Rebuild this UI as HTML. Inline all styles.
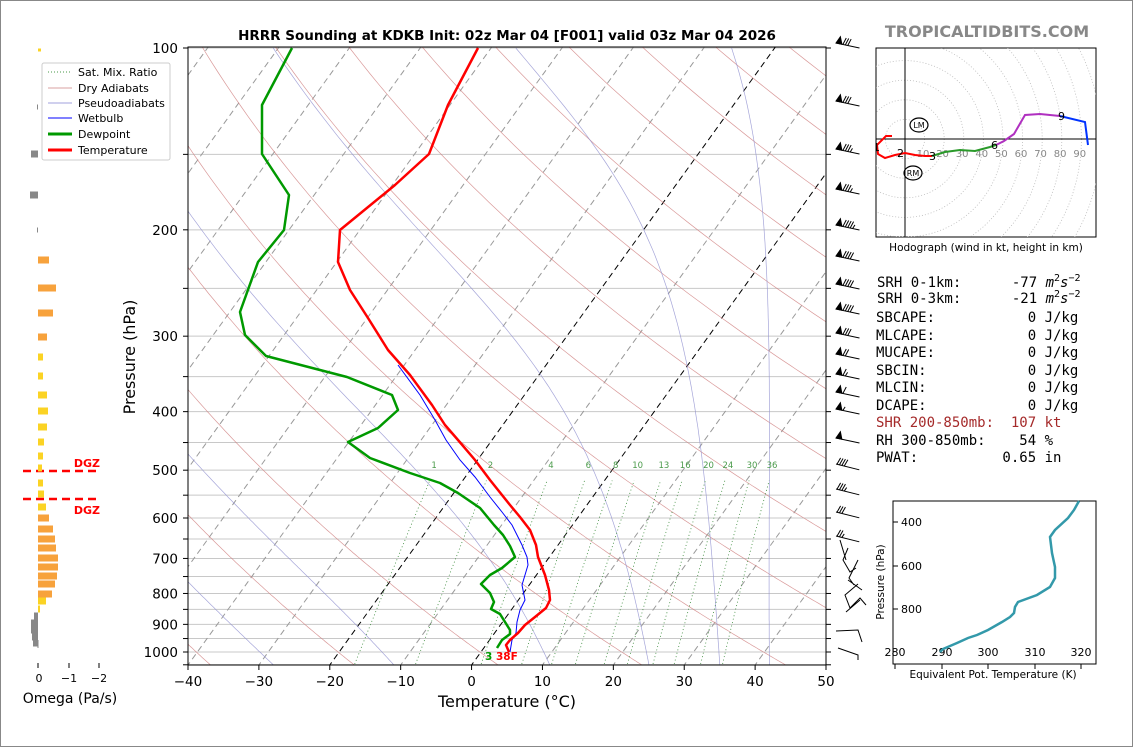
<!DOCTYPE html>
<html><head><meta charset="utf-8">
<style>
html,body{margin:0;padding:0;background:#fff;}
svg{display:block;font-family:"DejaVu Sans","Liberation Sans",sans-serif;}
.mono text{font-family:"DejaVu Sans Mono","Liberation Mono",monospace;font-size:14px;white-space:pre;}
</style></head>
<body>
<svg id="s" width="1134" height="748" viewBox="0 0 1134 748" xmlns="http://www.w3.org/2000/svg" xml:space="preserve">
<rect x="0.5" y="0.5" width="1132" height="746" fill="#fff" stroke="#888"/>
<defs><clipPath id="c"><rect x="188" y="47" width="638" height="618"/></clipPath>
<clipPath id="ch"><rect x="876" y="48" width="220" height="189"/></clipPath></defs>
<g id="bg" clip-path="url(#c)"></g>
<g id="fg"></g>
<text x="507" y="40" text-anchor="middle" font-size="13.5" font-weight="bold">HRRR Sounding at KDKB Init: 02z Mar 04 [F001] valid 03z Mar 04 2026</text>
<text x="987" y="37" text-anchor="middle" font-size="16" font-weight="bold" fill="#888">TROPICALTIDBITS.COM</text>
<text x="507" y="707" text-anchor="middle" font-size="16">Temperature (°C)</text>
<text transform="translate(135,357) rotate(-90)" text-anchor="middle" font-size="16">Pressure (hPa)</text>
<text x="70" y="703" text-anchor="middle" font-size="14">Omega (Pa/s)</text>
<g font-size="11">
<rect x="42" y="63" width="128" height="97" fill="#fff" stroke="#ccc" rx="2"/>
<line x1="48" y1="72" x2="72" y2="72" stroke="#4a9a4a" stroke-dasharray="1,2"/><text x="78" y="76">Sat. Mix. Ratio</text>
<line x1="48" y1="88" x2="72" y2="88" stroke="#d9a0a0"/><text x="78" y="92">Dry Adiabats</text>
<line x1="48" y1="103" x2="72" y2="103" stroke="#a0a0dd"/><text x="78" y="107">Pseudoadiabats</text>
<line x1="48" y1="118" x2="72" y2="118" stroke="#00f"/><text x="78" y="122">Wetbulb</text>
<line x1="48" y1="134" x2="72" y2="134" stroke="#090" stroke-width="3"/><text x="78" y="138">Dewpoint</text>
<line x1="48" y1="150" x2="72" y2="150" stroke="#f00" stroke-width="3"/><text x="78" y="154">Temperature</text>
</g>
<line x1="23" y1="471" x2="99" y2="471" stroke="#f00" stroke-width="2.5" stroke-dasharray="8,5"/>
<line x1="23" y1="499" x2="99" y2="499" stroke="#f00" stroke-width="2.5" stroke-dasharray="8,5"/>
<text x="100" y="467" text-anchor="end" font-size="11" font-weight="bold" fill="#f00">DGZ</text>
<text x="100" y="514" text-anchor="end" font-size="11" font-weight="bold" fill="#f00">DGZ</text>
<line x1="38" y1="663" x2="38" y2="668" stroke="#000"/><line x1="69" y1="663" x2="69" y2="668" stroke="#000"/><line x1="99" y1="663" x2="99" y2="668" stroke="#000"/>
<g font-size="11" text-anchor="middle"><text x="39" y="682">0</text><text x="69" y="682">−1</text><text x="99" y="682">−2</text></g>
<rect x="876" y="48" width="220" height="189" fill="#fff" stroke="#000"/>
<g id="hodo" clip-path="url(#ch)"></g>
<text x="986" y="251" text-anchor="middle" font-size="10.5">Hodograph (wind in kt, height in km)</text>
<g class="mono">
<text x="877" y="287" xml:space="preserve">SRH 0-1km:      -77 <tspan font-style="italic">m</tspan><tspan font-size="10" dy="-6">2</tspan><tspan dy="6" font-style="italic">s</tspan><tspan font-size="10" dy="-6">−2</tspan></text>
<text x="877" y="303" xml:space="preserve">SRH 0-3km:      -21 <tspan font-style="italic">m</tspan><tspan font-size="10" dy="-6">2</tspan><tspan dy="6" font-style="italic">s</tspan><tspan font-size="10" dy="-6">−2</tspan></text>
<text x="876" y="322" xml:space="preserve">SBCAPE:           0 J/kg</text>
<text x="876" y="340" xml:space="preserve">MLCAPE:           0 J/kg</text>
<text x="876" y="357" xml:space="preserve">MUCAPE:           0 J/kg</text>
<text x="876" y="375" xml:space="preserve">SBCIN:            0 J/kg</text>
<text x="876" y="392" xml:space="preserve">MLCIN:            0 J/kg</text>
<text x="876" y="410" xml:space="preserve">DCAPE:            0 J/kg</text>
<text x="876" y="427" fill="#a52a2a" xml:space="preserve">SHR 200-850mb:  107 kt</text>
<text x="876" y="445" xml:space="preserve">RH 300-850mb:    54 %</text>
<text x="876" y="462" xml:space="preserve">PWAT:          0.65 in</text>
</g>
<rect x="893" y="501" width="203" height="163" fill="none" stroke="#000"/>
<g font-size="11">
<text x="895" y="656" text-anchor="middle">280</text><text x="942" y="656" text-anchor="middle">290</text><text x="988" y="656" text-anchor="middle">300</text><text x="1035" y="656" text-anchor="middle">310</text><text x="1081" y="656" text-anchor="middle">320</text>
<text x="901" y="526">400</text><text x="901" y="570">600</text><text x="901" y="613">800</text>
</g>
<g stroke="#000"><line x1="893" y1="522" x2="898" y2="522"/><line x1="893" y1="566" x2="898" y2="566"/><line x1="893" y1="609" x2="898" y2="609"/>
<line x1="895" y1="664" x2="895" y2="669"/><line x1="942" y1="664" x2="942" y2="669"/><line x1="988" y1="664" x2="988" y2="669"/><line x1="1035" y1="664" x2="1035" y2="669"/><line x1="1081" y1="664" x2="1081" y2="669"/></g>
<text x="993" y="678" text-anchor="middle" font-size="10.5">Equivalent Pot. Temperature (K)</text>
<text transform="translate(884,582) rotate(-90)" text-anchor="middle" font-size="10.5">Pressure (hPa)</text>
<polyline fill="none" stroke="#3399aa" stroke-width="2.5" points="1079,501 1074,510 1068,518 1055,530 1050,537 1052,553 1055,567 1055,578 1050,587 1037,595 1018,602 1015,607 1014,613 1010,617 1002,622 988,630 977,635 968,638 957,643 943,649 940,652"/>
</svg>
<script>
var NS="http://www.w3.org/2000/svg";
function el(p,t,a,txt){var e=document.createElementNS(NS,t);for(var k in a)e.setAttribute(k,a[k]);if(txt!=null)e.textContent=txt;p.appendChild(e);return e;}
var bg=document.getElementById('bg'),fg=document.getElementById('fg'),svg=document.getElementById('s');
function Y(p){return 48+604*Math.log10(p/100);}
function X(T,p){return 188+(T+40)*7.089+0.721*(665-Y(p));}
function pl(pts){return pts.map(function(q){return q[0].toFixed(1)+","+q[1].toFixed(1)}).join(" ");}
var P=[];for(var p=1060;p>=95;p-=5)P.push(p);
for(var p=100;p<=1050;p+=50){el(bg,'line',{x1:188,x2:826,y1:Y(p),y2:Y(p),stroke:'#c8c8c8','stroke-width':1});}
for(var T=-130;T<=50;T+=10){var blk=(T==0||T==-20);el(bg,'line',{x1:X(T,1060),y1:Y(1060),x2:X(T,90),y2:Y(90),stroke:blk?'#000':'#999','stroke-width':1,'stroke-dasharray':'6,4'});}
for(var th=213;th<=520;th+=20){var pts=P.map(function(p){return [X(th*Math.pow(p/1000,0.2857)-273.15,p),Y(p)]});el(bg,'polyline',{points:pl(pts),fill:'none',stroke:'#d08080','stroke-width':0.7,opacity:0.8});}
function es(T){return 6.112*Math.exp(17.67*T/(T+243.5));}
[-45,-28,-11,11,25,35,42].forEach(function(T0){var T=T0+273.15,pts=[];
 for(var pp=1050;pp>=100;pp-=5){pts.push([X(T-273.15,pp),Y(pp)]);var rs=0.622*es(T-273.15)/(pp-es(T-273.15));var d=(287*T+2.5e6*rs)/(1004+2.5e6*2.5e6*rs*0.622/(287*T*T))/pp;T-=d*5;}
 el(bg,'polyline',{points:pl(pts),fill:'none',stroke:'#9090d0','stroke-width':0.7,opacity:0.8});});
[1,2,4,6,8,10,13,16,20,24,30,36].forEach(function(w){var pts=[];for(var p=1060;p>=520;p-=10){var e=w*p/(622+w),l=Math.log(e/6.112);pts.push([X(243.5*l/(17.67-l),p),Y(p)]);}
 el(bg,'polyline',{points:pl(pts),fill:'none',stroke:'#3a8a3a','stroke-width':0.8,'stroke-dasharray':'1,2.5'});
 var e=w*500/(622+w),l=Math.log(e/6.112);el(bg,'text',{x:X(243.5*l/(17.67-l),500),y:468,'font-size':8.5,fill:'#4a9a4a','text-anchor':'middle'},String(w));});
el(fg,'polyline',{fill:'none',stroke:'#00f','stroke-width':1,points:"398,365 420,395 435,420 446,440 460,460 475,477 490,497 502,512 512,525 522,545 527,557 528,565 525,575 522,585 525,600 520,610 517,622 516,633 512,640 510,652"});
el(fg,'polyline',{fill:'none',stroke:'#090','stroke-width':2.5,'stroke-linejoin':'round',points:"292,48 262,105 262,154 289,195 284,230 258,262 240,312 245,335 266,356 347,377 392,395 398,410 378,428 348,442 370,458 410,473 440,483 458,493 480,508 494,525 503,535 510,546 515,557 502,568 490,575 481,584 490,593 494,602 491,609 500,614 505,622 510,630 510,634 502,640 497,648"});
el(fg,'polyline',{fill:'none',stroke:'#f00','stroke-width':2.5,'stroke-linejoin':'round',points:"478,48 448,105 429,154 395,185 340,230 338,262 350,290 368,318 388,350 410,375 432,405 445,425 458,440 475,460 490,480 510,505 520,517 530,530 536,545 538,557 545,575 549,590 550,600 546,608 535,617 525,625 518,633 510,640 506,645 509,652"});
el(fg,'text',{x:485,y:660,'font-size':10.5,'font-weight':'bold',fill:'#090'},'3');
el(fg,'text',{x:496,y:660,'font-size':10.5,'font-weight':'bold',fill:'#f00'},'38F');
el(fg,'rect',{x:188,y:47,width:638,height:618,fill:'none',stroke:'#000','stroke-width':1});
[100,200,300,400,500,600,700,800,900,1000].forEach(function(p){el(fg,'text',{x:178,y:Y(p)+5,'font-size':13.5,'text-anchor':'end'},String(p));});
for(var p=100;p<=1050;p+=50){el(fg,'line',{x1:183,x2:188,y1:Y(p),y2:Y(p),stroke:'#000'});el(fg,'line',{x1:826,x2:831,y1:Y(p),y2:Y(p),stroke:'#000'});}
for(var T=-40;T<=50;T+=10){var x=188+(T+40)*7.089;el(fg,'line',{x1:x,x2:x,y1:665,y2:670,stroke:'#000'});el(fg,'text',{x:x,y:686,'font-size':13.5,'text-anchor':'middle'},(T<0?'−'+(-T):String(T)));}
var bars=[[50,41,'y',3],[107,37,'g',5],[154,31,'g'],[195,30,'g'],[230,37,'g',5],[260,49,'o'],[288,56,'o'],[313,53,'o'],[337,47,'o'],[357,43,'y'],[376,43,'y'],[395,47,'y'],[411,48,'y'],[427,47,'y'],[442,44,'y'],[456,43,'y'],[468,42,'y'],[483,43,'y'],[494,44,'y'],[507,46,'y'],[518,49,'o'],[529,53,'o'],[539,55,'o'],[548,56,'o'],[558,58,'o'],[567,58,'o'],[576,57,'o'],[584,55,'o'],[594,52,'o'],[601,46,'y'],[609,40,'y'],[616,34,'g'],[623,31,'g'],[630,31,'g'],[637,32,'g'],[643,33,'g']];
var col={y:'#fbd324',o:'#f7a23c',g:'#888'};
bars.forEach(function(b){var h=b[3]||7;var x1=Math.min(38,b[1]),x2=Math.max(38,b[1]);el(svg,'rect',{x:x1,y:b[0]-h/2,width:Math.max(1,x2-x1),height:h,fill:col[b[2]]});});
el(svg,'line',{x1:38,x2:38,y1:640,y2:648,stroke:'#888'});
function barb(y,flags,full,half,ang){var g=el(svg,'g',{transform:'translate(836,'+y+') rotate('+ang+')',stroke:'#000','stroke-width':1,fill:'#000'});
 el(g,'line',{x1:0,y1:0,x2:24,y2:0});var x=0;for(var i=0;i<flags;i++){el(g,'polygon',{points:x+',0 '+(x+3)+',-7 '+(x+6)+',0'});x+=6;}
 x+=1;for(var i=0;i<full;i++){el(g,'line',{x1:x,y1:0,x2:x+2,y2:-7});x+=2.5;}for(var i=0;i<half;i++){el(g,'line',{x1:x,y1:0,x2:x+1.5,y2:-4});x+=2.5;}}
var B=[[43,1,3,0],[101,1,3,0],[149,1,3,1],[189,1,3,1],[225,1,4,1],[256,1,4,0],[284,1,4,0],[309,1,4,0],[333,1,3,0],[354,1,2,0],[374,1,1,1],[392,1,1,0],[409,1,0,1],[438,1,0,0]];
B.forEach(function(b){barb(b[0],b[1],b[2],b[3],12);});
[[464,0,4,0],[489,0,3,1],[512,0,3,0],[536,0,2,1]].forEach(function(b){barb(b[0],b[1],b[2],b[3],14);});
var low="M840,540 L846,560 M848,548 L843,560 L850,572 L856,568 M858,560 L849,578 L854,585 M848,580 L862,590 M858,584 L845,595 L850,608 L860,598 L866,605 M846,612 L860,600 M836,631 L858,630 L862,642 M838,648 L858,655 L858,660";
el(svg,'path',{d:low,fill:'none',stroke:'#000','stroke-width':1});
var h=document.getElementById('hodo');var ox=905,oy=139,s=1.96;
for(var r=10;r<=120;r+=10)el(h,'circle',{cx:ox,cy:oy,r:r*s,fill:'none',stroke:'#bbb','stroke-dasharray':'1,2','stroke-width':0.8});
el(h,'line',{x1:876,x2:1096,y1:oy,y2:oy,stroke:'#000'});el(h,'line',{x1:ox,x2:ox,y1:48,y2:237,stroke:'#000'});
for(var r=10;r<=90;r+=10)el(h,'text',{x:ox+r*s-8,y:157,'font-size':10,fill:'#888'},String(r));
el(h,'polyline',{fill:'none',stroke:'#f00','stroke-width':2,points:"892,136 886,136 882,140 877,145 878,154 885,158 895,155 905,153 915,155 925,156 932,156"});
el(h,'polyline',{fill:'none',stroke:'#2a9a2a','stroke-width':2,points:"932,156 945,152 960,150 975,151 990,147 996,145"});
el(h,'polyline',{fill:'none',stroke:'#b030c0','stroke-width':2,points:"996,145 1004,141 1014,134 1025,115 1040,114 1060,116"});
el(h,'polyline',{fill:'none',stroke:'#0033ff','stroke-width':2,points:"1060,116 1085,122 1088,145"});
[['1',873,151],['2',897,157],['3',929,160],['6',991,149],['9',1058,120]].forEach(function(t){el(h,'text',{x:t[1],y:t[2],'font-size':11},t[0]);});
el(h,'ellipse',{cx:919,cy:125,rx:9,ry:7,fill:'none',stroke:'#000','stroke-width':1.2});el(h,'text',{x:919,y:128,'font-size':8,'text-anchor':'middle'},'LM');
el(h,'ellipse',{cx:913,cy:173,rx:9,ry:7,fill:'none',stroke:'#000','stroke-width':1.2});el(h,'text',{x:913,y:176,'font-size':8,'text-anchor':'middle'},'RM');
</script>
</body></html>
